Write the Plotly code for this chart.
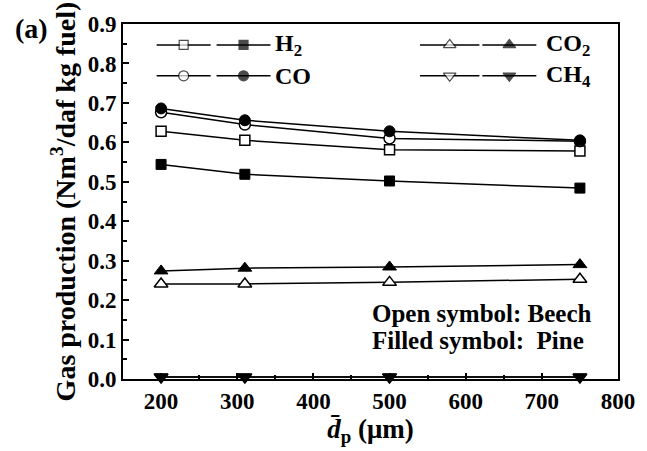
import plotly.graph_objects as go

# Mean particle size (um)
particle_size = [200, 310, 500, 750]

# Gas yields (Nm3/daf kg fuel); beech = open symbols, pine = filled symbols
h2_beech = [0.628, 0.605, 0.581, 0.578]
h2_pine = [0.544, 0.519, 0.502, 0.484]
co_beech = [0.676, 0.645, 0.610, 0.603]
co_pine = [0.686, 0.656, 0.628, 0.605]
co2_beech = [0.241, 0.241, 0.245, 0.253]
co2_pine = [0.274, 0.281, 0.284, 0.290]
ch4_beech = [0.005, 0.005, 0.005, 0.005]
ch4_pine = [0.005, 0.005, 0.005, 0.005]

x_ticks = [200, 300, 400, 500, 600, 700, 800]
y_ticks = [0.0, 0.1, 0.2, 0.3, 0.4, 0.5, 0.6, 0.7, 0.8, 0.9]

FONT = "Liberation Serif, Times New Roman, serif"
BLACK = "#000000"

series = [
    ("H<sub>2</sub>", "square", 10, h2_beech, h2_pine),
    ("CO", "circle", 11, co_beech, co_pine),
    ("CO<sub>2</sub>", "triangle-up", 12, co2_beech, co2_pine),
    ("CH<sub>4</sub>", "triangle-down", 12, ch4_beech, ch4_pine),
]

fig = go.Figure()

for name, sym, size, beech, pine in series:
    fig.add_trace(go.Scatter(
        x=particle_size, y=beech, mode="lines+markers", cliponaxis=False,
        line=dict(color=BLACK, width=1.5),
        marker=dict(symbol=sym, size=size, color="white",
                    line=dict(color=BLACK, width=1.5)),
        showlegend=False,
    ))
    fig.add_trace(go.Scatter(
        x=particle_size, y=pine, mode="lines+markers", cliponaxis=False,
        line=dict(color=BLACK, width=1.5),
        marker=dict(symbol=sym, size=size, color=BLACK,
                    line=dict(color=BLACK, width=1)),
        showlegend=False,
    ))

# Key drawn on an overlay axis spanning the plot area (0..1 in both directions)
key_rows = [0.941, 0.854]
key_cols = [
    # (open start, open end, filled start, filled end, label x)
    (0.068, 0.177, 0.189, 0.298, 0.304),
    (0.600, 0.720, 0.726, 0.835, 0.850),
]
annotations = []
for i, (name, sym, size, _, _) in enumerate(series):
    col = key_cols[i // 2]
    yk = key_rows[i % 2]
    for (x0, x1, fill) in [(col[0], col[1], "white"), (col[2], col[3], BLACK)]:
        fig.add_trace(go.Scatter(
            x=[x0, (x0 + x1) / 2, x1], y=[yk, yk, yk],
            xaxis="x2", yaxis="y2", mode="lines+markers",
            line=dict(color=BLACK, width=1.5),
            marker=dict(symbol=sym, size=[0, size - 1, 0], color=fill,
                        line=dict(color=BLACK, width=1.2)),
            showlegend=False, hoverinfo="skip",
        ))
    annotations.append(dict(
        x=col[4], y=yk, xref="paper", yref="paper", xanchor="left",
        yanchor="middle", text=name, showarrow=False,
        font=dict(family=FONT, size=24, color=BLACK, weight="bold"),
    ))

annotations += [
    dict(x=0.499, y=0.185, xref="paper", yref="paper", xanchor="left",
         yanchor="middle", text="Open symbol: Beech", showarrow=False,
         font=dict(family=FONT, size=25, color=BLACK, weight="bold")),
    dict(x=0.499, y=0.109, xref="paper", yref="paper", xanchor="left",
         yanchor="middle", text="Filled symbol:\u00a0 Pine", showarrow=False,
         font=dict(family=FONT, size=25, color=BLACK, weight="bold")),
    dict(x=-0.222, y=0.988, xref="paper", yref="paper", xanchor="left",
         yanchor="middle", text="(a)", showarrow=False,
         font=dict(family=FONT, size=28, color=BLACK, weight="bold")),
]

axis_common = dict(
    showgrid=False, zeroline=False, showline=True, linecolor=BLACK,
    linewidth=2, mirror=True, ticks="inside", ticklen=6, tickwidth=1.5,
    tickcolor=BLACK,
    tickfont=dict(family=FONT, size=23, color=BLACK, weight="bold"),
)

fig.update_layout(
    width=647, height=451,
    margin=dict(l=123, r=21, t=22, b=72),
    paper_bgcolor="white", plot_bgcolor="white",
    showlegend=False,
    annotations=annotations,
    xaxis=dict(
        **axis_common, range=[150, 800], tickvals=x_ticks,
        minor=dict(dtick=50, tick0=150, ticks="inside", ticklen=4,
                   tickcolor=BLACK, tickwidth=1.5),
        title=dict(text="<i>d̄</i><sub>p</sub> (μm)", standoff=0,
                   font=dict(family=FONT, size=27, color=BLACK, weight="bold")),
    ),
    yaxis=dict(
        **axis_common, range=[0, 0.9], tickvals=y_ticks, tickformat=".1f",
        minor=dict(dtick=0.05, tick0=0, ticks="inside", ticklen=4,
                   tickcolor=BLACK, tickwidth=1.5),
        title=dict(text="Gas production (Nm<sup>3</sup>/daf kg fuel)", standoff=4,
                   font=dict(family=FONT, size=28, color=BLACK, weight="bold")),
    ),
    xaxis2=dict(overlaying="x", range=[0, 1], visible=False),
    yaxis2=dict(overlaying="y", range=[0, 1], visible=False),
)

fig.write_html("out.html")
